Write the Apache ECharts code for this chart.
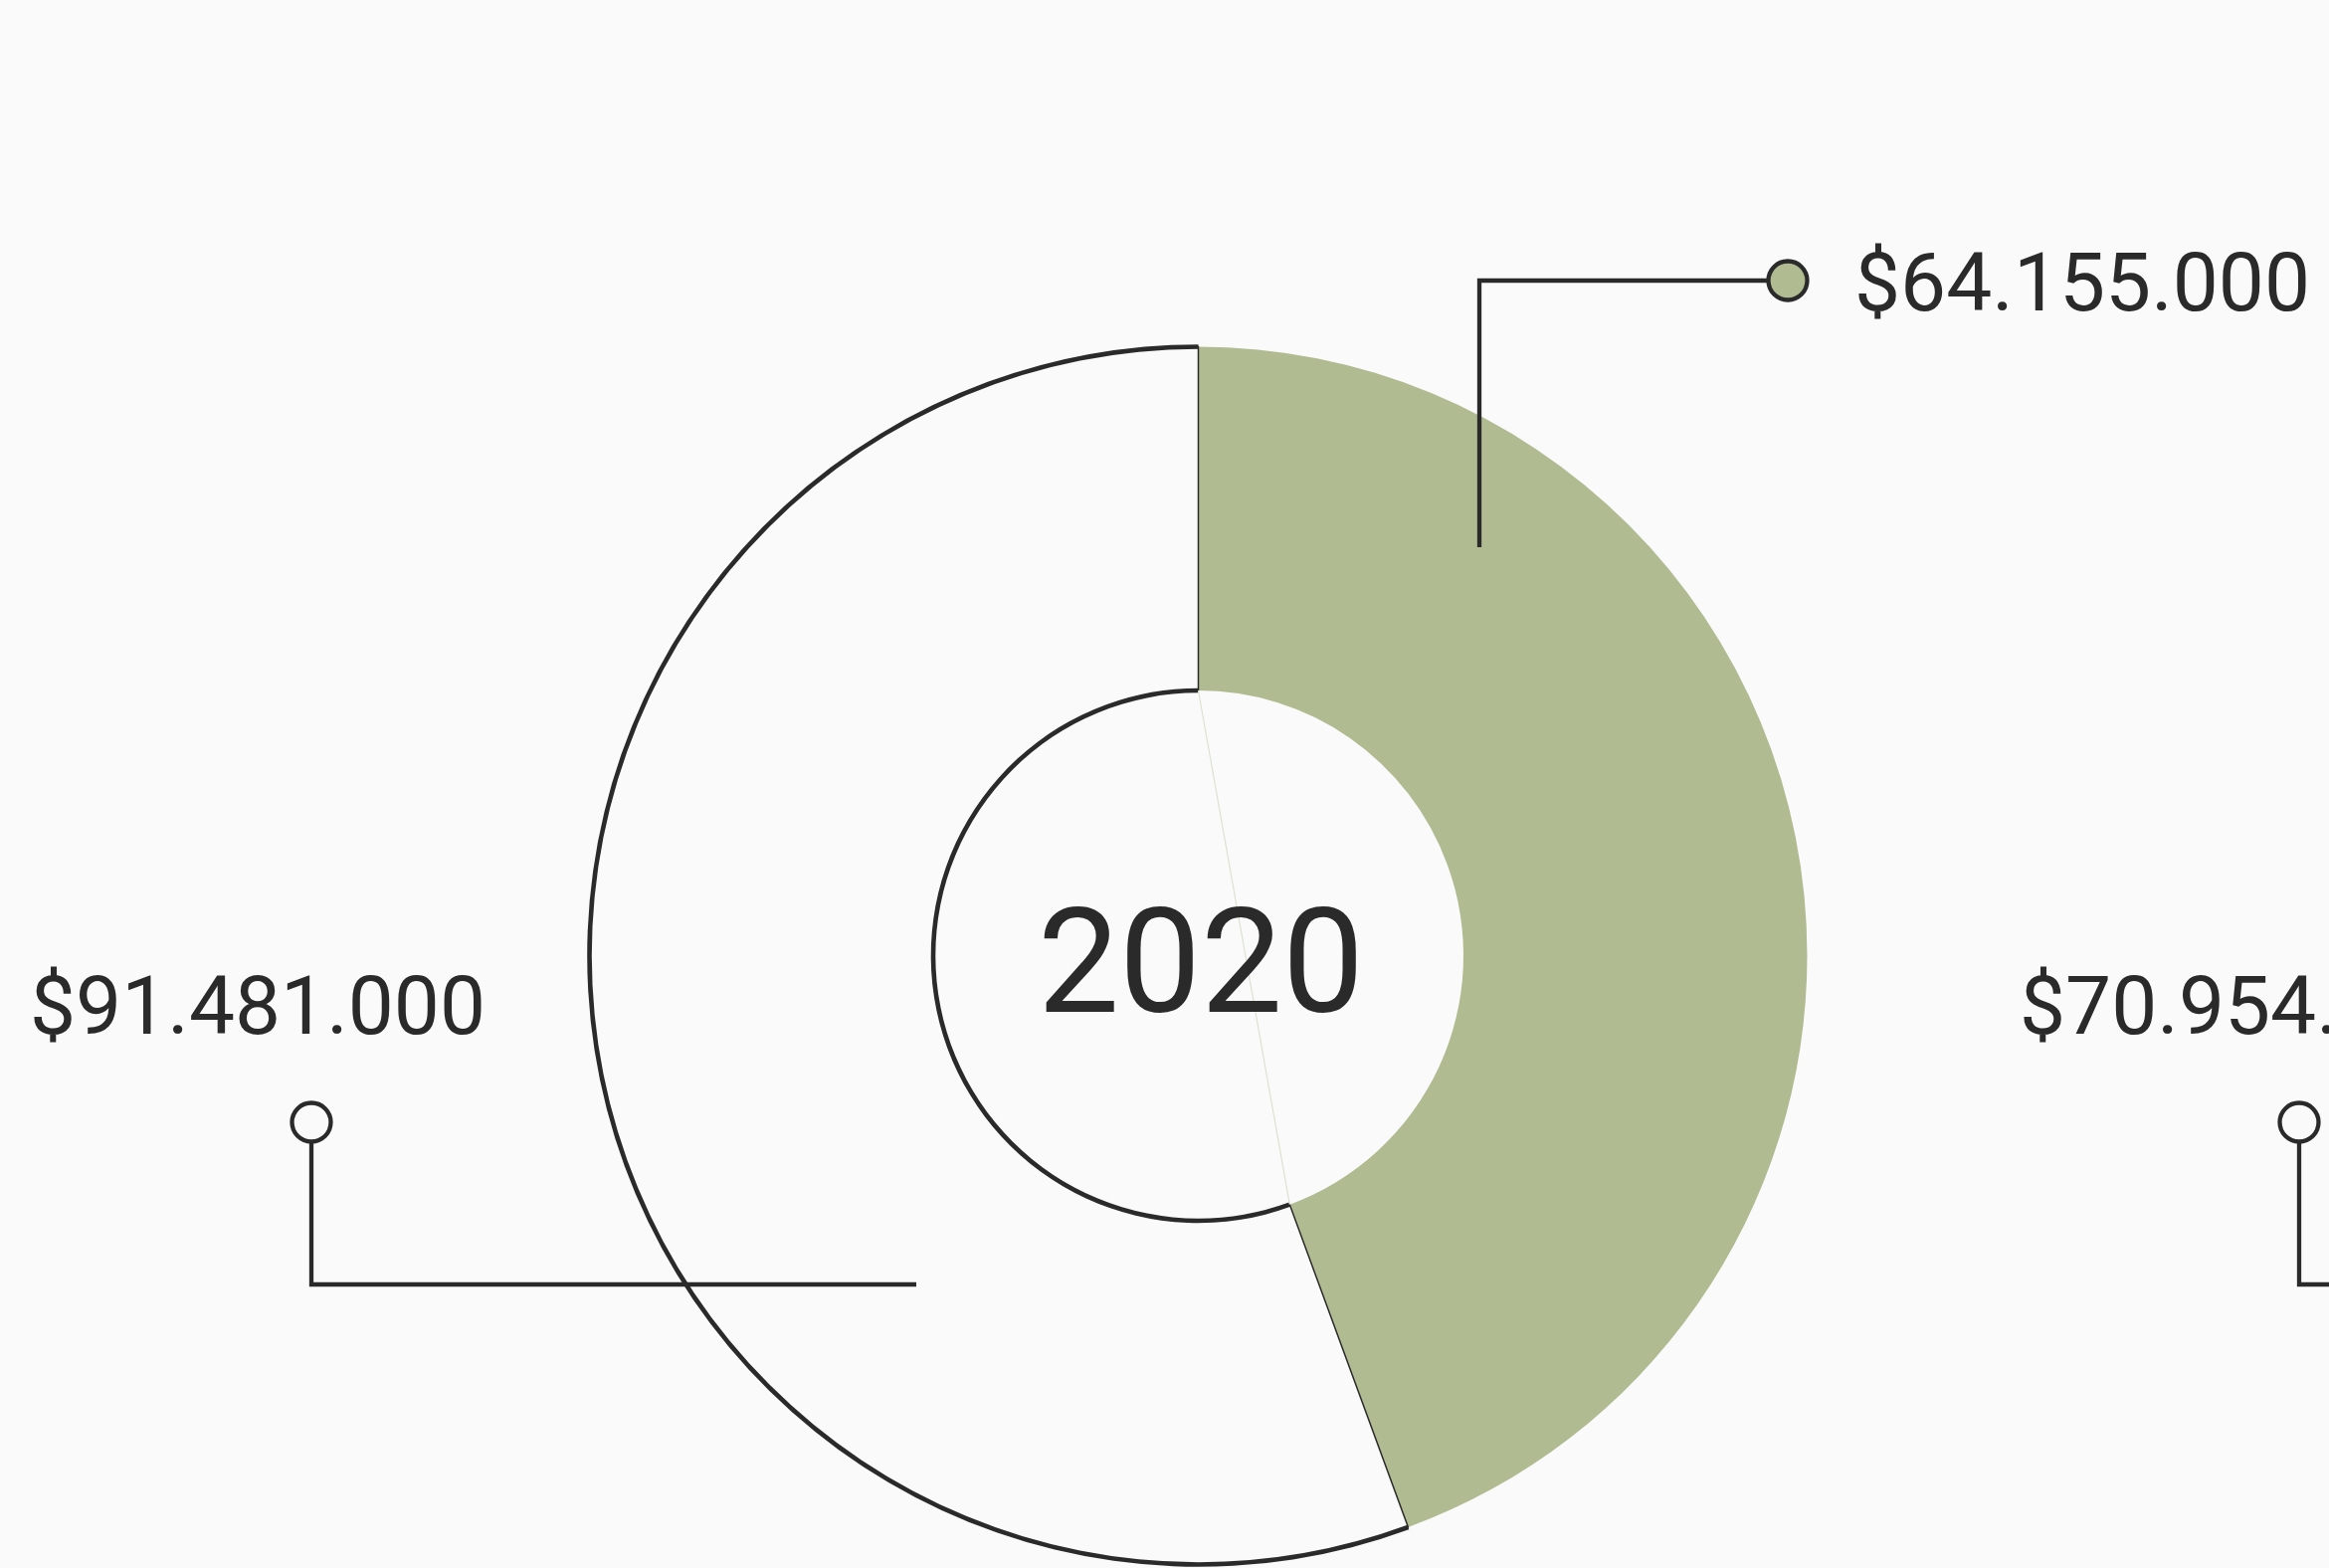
<!DOCTYPE html>
<html>
<head>
<meta charset="utf-8">
<script src="https://cdn.jsdelivr.net/npm/echarts@6/dist/echarts.min.js"></script>
<style>
  html, body { margin: 0; padding: 0; background: #fafafa; }
  #pie { width: 2341px; height: 1576px; }
</style>
</head>
<body>
<div id="pie"></div>
<script>
// datos
var sliceNames = ['Verde', 'Resto']
var sliceShare = [44.4, 55.6]          // % del anillo
var labelValues = [64155000, 91481000, 70954000]
var yearLabel = '2020'

var dark = '#2a2a2a'
var green = '#b0bb91'
var bg = '#fafafa'

var cx = 1204.5, cy = 960.5
var rIn = 266.5, rOut = 612

function fmt(v){
    return '$' + String(v).replace(/\B(?=(\d{3})+(?!\d))/g, '.')
}

function pieData(colors){
    return sliceNames.map(function(n, i){
        return { name: n, value: sliceShare[i], itemStyle: colors[i] }
    })
}

function ringSeries(r0, r1, colors, z){
    return {
        type: 'pie',
        center: [cx, cy],
        radius: [r0, r1],
        startAngle: 90,
        clockwise: true,
        silent: true,
        z: z,
        label: { show: false },
        labelLine: { show: false },
        emphasis: { disabled: true },
        data: pieData(colors)
    }
}

// cuerda tenue del borde interior (angulo del corte)
var total = sliceShare[0] + sliceShare[1]
var cutAng = sliceShare[0] / total * Math.PI * 2
var chord = [
    [cx, cy - rIn],
    [cx + rIn * Math.sin(cutAng), cy - rIn * Math.cos(cutAng)]
]

function marker(x, y, fill){
    return { type: 'circle', shape: { cx: x, cy: y, r: 19.5 },
             style: { fill: fill, stroke: dark, lineWidth: 4.3 }, z: 20 }
}
function leader(pts){
    return { type: 'polyline', shape: { points: pts },
             style: { stroke: dark, lineWidth: 4.3, fill: null }, z: 19 }
}
function valueText(x, y, v){
    return { type: 'text', x: x, y: y, z: 20,
             style: { text: fmt(v), fill: dark, font: '400 82px Roboto',
                      textAlign: 'left', textVerticalAlign: 'middle' } }
}

var option = {
    animation: false,
    backgroundColor: bg,
    series: [
        ringSeries(rIn, rOut, [
            { color: green, borderWidth: 0 },
            { color: bg, borderColor: dark, borderWidth: 1.5 }
        ], 2),
        // bordes gruesos del tramo blanco
        ringSeries(rOut - 2.3, rOut + 2.3, [
            { color: 'rgba(0,0,0,0)' }, { color: dark }
        ], 3),
        ringSeries(rIn - 2.3, rIn + 2.3, [
            { color: 'rgba(0,0,0,0)' }, { color: dark }
        ], 3)
    ],
    graphic: [
        { type: 'line', shape: { x1: chord[0][0], y1: chord[0][1], x2: chord[1][0], y2: chord[1][1] },
          style: { stroke: '#dde2cf', lineWidth: 1.2 }, z: 10 },
        { type: 'text', x: 1207, y: 980, z: 20,
          style: { text: yearLabel, fill: dark, font: '400 146px Roboto',
                   textAlign: 'center', textVerticalAlign: 'middle' } },
        // etiqueta superior
        leader([[1487, 550], [1487, 282], [1777, 282]]),
        marker(1797, 282, green),
        valueText(1864, 291, labelValues[0]),
        // etiqueta izquierda
        leader([[313, 1148], [313, 1291], [921, 1291]]),
        marker(313, 1128, bg),
        valueText(30, 1018, labelValues[1]),
        // etiqueta derecha (cortada)
        leader([[2311, 1148], [2311, 1291], [2400, 1291]]),
        marker(2311, 1128, bg),
        valueText(2030, 1018, labelValues[2])
    ]
}

var pie_echarts = echarts.init(document.querySelector('#pie'))
pie_echarts.setOption(option)
</script>
</body>
</html>
